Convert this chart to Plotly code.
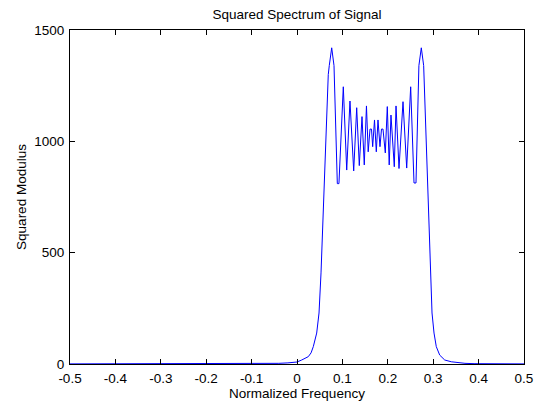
import plotly.graph_objects as go

# Data
freq = [-0.5, -0.3, -0.1, -0.06, -0.04, -0.02, 0.0, 0.0104, 0.018, 0.0249, 0.031,
        0.0359, 0.0434, 0.0485, 0.0529, 0.0579, 0.0632, 0.0689, 0.0711, 0.0764,
        0.0815, 0.0888, 0.0924, 0.1020, 0.1095, 0.1167, 0.1249, 0.1315, 0.1372,
        0.1432, 0.1482, 0.1530, 0.1568, 0.1608, 0.1641, 0.1667, 0.1707, 0.1747,
        0.1784, 0.1828, 0.1861, 0.1894, 0.1945, 0.1989, 0.2031, 0.2070, 0.2143,
        0.2181, 0.2247, 0.2335, 0.2416, 0.2504, 0.2577, 0.2621, 0.2685, 0.2738,
        0.2790, 0.2848, 0.2901, 0.2945, 0.2974, 0.3018, 0.3068, 0.3143, 0.3253,
        0.3399, 0.3546, 0.37, 0.39, 0.45, 0.5]
power = [0.5, 0.5, 0.8, 1.5, 3, 5, 9, 18, 24, 33, 50,
         78, 139, 229, 409, 706, 1006, 1300, 1340, 1420,
         1340, 810, 810, 1245, 871, 1181, 867, 1151, 891,
         1111, 894, 1159, 953, 1055, 1055, 976, 1096, 953,
         1096, 976, 1055, 1055, 948, 1156, 894, 1118, 886,
         1159, 878, 1178, 880, 1245, 813, 813, 1340, 1420,
         1340, 1006, 706, 409, 229, 139, 78, 40, 18,
         10, 6, 3, 1.5, 0.8, 0.5]

x_ticks = [-0.5, -0.4, -0.3, -0.2, -0.1, 0, 0.1, 0.2, 0.3, 0.4, 0.5]
x_labels = ["-0.5", "-0.4", "-0.3", "-0.2", "-0.1", "0", "0.1", "0.2", "0.3", "0.4", "0.5"]
y_ticks = [0, 500, 1000, 1500]
y_labels = ["0", "500", "1000", "1500"]

FONT = "Liberation Sans, Arial, sans-serif"
FS = 13.5

fig = go.Figure()
fig.add_trace(go.Scatter(x=freq, y=power, mode="lines",
                         line=dict(color="#0000FF", width=1), showlegend=False))

axis_common = dict(showline=True, linecolor="black", linewidth=1, mirror="ticks",
                   ticks="inside", ticklen=5, tickcolor="black", showgrid=False,
                   zeroline=False, automargin=False,
                   tickfont=dict(family=FONT, size=FS, color="black"))

fig.update_layout(
    width=535, height=401,
    margin=dict(l=70, r=11, t=30, b=37),
    paper_bgcolor="white", plot_bgcolor="white",
    title=dict(text="Squared Spectrum of Signal", x=0.5, xref="paper", xanchor="center",
               y=1 - 14 / 401, yref="container", yanchor="middle",
               font=dict(family=FONT, size=FS, color="black")),
    xaxis=dict(range=[-0.5, 0.5], tickvals=x_ticks, ticktext=x_labels,
               ticklabelstandoff=2,
               title=dict(text="Normalized Frequency", standoff=2,
                          font=dict(family=FONT, size=FS, color="black")),
               **axis_common),
    yaxis=dict(range=[0, 1500], tickvals=y_ticks, ticktext=y_labels,
               ticklabelstandoff=2,
               title=dict(text="Squared Modulus", standoff=4,
                          font=dict(family=FONT, size=FS, color="black")),
               **axis_common),
)

fig.write_html("out.html")
